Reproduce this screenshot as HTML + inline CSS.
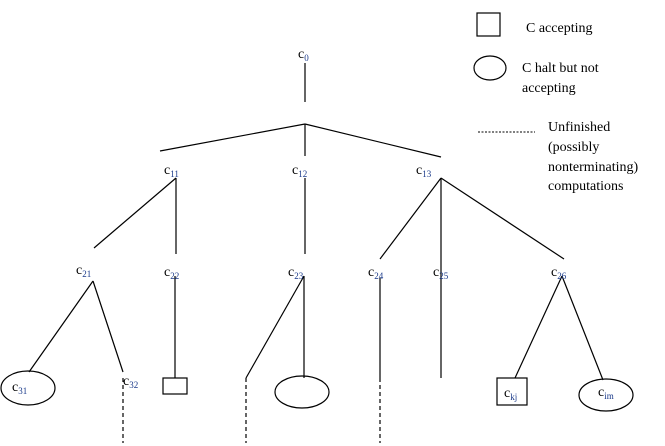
<!DOCTYPE html>
<html><head><style>
html,body{margin:0;padding:0;background:#fff;}
svg{display:block;}
text{font-family:"Liberation Serif",serif;fill:#000;}
.l{font-size:14px;}
.s{font-size:9px;fill:#1a3a8a;}
</style></head><body>
<svg width="665" height="446" viewBox="0 0 665 446" xmlns="http://www.w3.org/2000/svg">
<g stroke="#000" stroke-width="1.2" fill="none">
<line x1="305" y1="63" x2="305" y2="102"/>
<line x1="305" y1="124" x2="160" y2="151"/>
<line x1="305" y1="124" x2="305" y2="156"/>
<line x1="305" y1="124" x2="441" y2="157"/>
<line x1="176" y1="178" x2="94" y2="248"/>
<line x1="176" y1="178" x2="176" y2="254"/>
<line x1="305" y1="178" x2="305" y2="254"/>
<line x1="441" y1="178" x2="380" y2="259"/>
<line x1="441" y1="178" x2="441" y2="378"/>
<line x1="441" y1="178" x2="564" y2="259"/>
<line x1="93" y1="281" x2="29" y2="372"/>
<line x1="93" y1="281" x2="123" y2="372"/>
<ellipse cx="28" cy="388" rx="27" ry="17"/>
<line x1="123" y1="378" x2="123" y2="443" stroke-dasharray="4,3"/>
<line x1="175" y1="276" x2="175" y2="378"/>
<rect x="163" y="378" width="24" height="16"/>
<line x1="304" y1="276" x2="246" y2="378"/>
<line x1="304" y1="276" x2="304" y2="378"/>
<line x1="246" y1="378" x2="246" y2="443" stroke-dasharray="4,3"/>
<ellipse cx="302" cy="392" rx="27" ry="16"/>
<line x1="380" y1="278" x2="380" y2="378"/>
<line x1="380" y1="378" x2="380" y2="443" stroke-dasharray="4,3"/>
<line x1="562" y1="276" x2="515" y2="378"/>
<line x1="562" y1="276" x2="603" y2="380"/>
<rect x="497" y="378" width="30" height="27"/>
<ellipse cx="606" cy="395" rx="27" ry="16"/>
<rect x="477" y="13" width="23" height="23"/>
<ellipse cx="490" cy="68" rx="16" ry="12"/>
<line x1="478" y1="132" x2="535" y2="132" stroke-dasharray="2,1.5" stroke-width="1"/>
</g>
<text class="l" x="298" y="58">c<tspan class="s" dy="3">0</tspan></text>
<text class="l" x="164" y="174">c<tspan class="s" dy="3">11</tspan></text>
<text class="l" x="292" y="174">c<tspan class="s" dy="3">12</tspan></text>
<text class="l" x="416" y="174">c<tspan class="s" dy="3">13</tspan></text>
<text class="l" x="76" y="274">c<tspan class="s" dy="3">21</tspan></text>
<text class="l" x="164" y="276">c<tspan class="s" dy="3">22</tspan></text>
<text class="l" x="288" y="276">c<tspan class="s" dy="3">23</tspan></text>
<text class="l" x="368" y="276">c<tspan class="s" dy="3">24</tspan></text>
<text class="l" x="433" y="276">c<tspan class="s" dy="3">25</tspan></text>
<text class="l" x="551" y="276">c<tspan class="s" dy="3">26</tspan></text>
<text class="l" x="12" y="391">c<tspan class="s" dy="3">31</tspan></text>
<text class="l" x="123" y="385">c<tspan class="s" dy="3">32</tspan></text>
<text class="l" x="504" y="397">c<tspan class="s" dy="3">kj</tspan></text>
<text class="l" x="598" y="396">c<tspan class="s" dy="3">im</tspan></text>
<text class="l" x="526" y="32">C accepting</text>
<text class="l" x="522" y="72">C halt but not</text>
<text class="l" x="522" y="92">accepting</text>
<text class="l" x="548" y="131">Unfinished</text>
<text class="l" x="548" y="151">(possibly</text>
<text class="l" x="548" y="171">nonterminating)</text>
<text class="l" x="548" y="190">computations</text>
</svg>
</body></html>
